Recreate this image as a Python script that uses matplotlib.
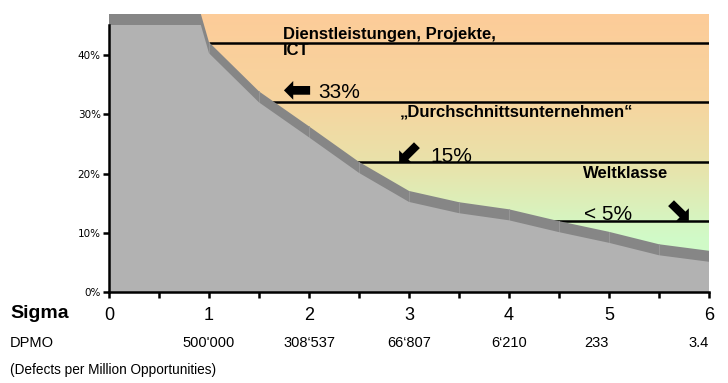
import numpy as np
import matplotlib
matplotlib.use("Agg")
import matplotlib.pyplot as plt
from matplotlib.patches import Polygon, Rectangle
from matplotlib.colors import LinearSegmentedColormap
import matplotlib.transforms as mtransforms

# data: cost of poor quality (% of revenue) by sigma level
sigma = [0, 0.5, 1, 1.5, 2, 2.5, 3, 3.5, 4, 4.5, 5, 5.5, 6]
cost = [84, 69.5, 40.3, 32.0, 26.1, 20.1, 15.2, 13.3, 12.1, 10.1, 8.3, 6.2, 5.1]
levels = [42, 32, 22, 12]
sigma_ticks = [0, 1, 2, 3, 4, 5, 6]
dpmo_pos = [1, 2, 3, 4, 5, 6]
dpmo_labels = ["500'000", "308\u2018537", "66\u2018807", "6\u2018210", "233", "3.4"]
ytick_vals = [0, 10, 20, 30, 40]

plt.rcParams['font.family'] = ["Liberation Sans", "DejaVu Sans"]

fig = plt.figure(figsize=(7.28, 3.83), dpi=100)
ax = fig.add_axes([109 / 728, 91 / 383, 600 / 728, 278 / 383])

px_per_pct = 5.925
ytop = 278 / px_per_pct
depth = 11 / px_per_pct
cap = 45

ax.set_xlim(0, 6)
ax.set_ylim(0, ytop)

# background gradient
cmap = LinearSegmentedColormap.from_list("bg", [
    (0.0, (0.80, 1.00, 0.80)),
    (0.20, (0.82, 0.98, 0.78)),
    (0.45, (0.91, 0.89, 0.67)),
    (0.70, (0.97, 0.83, 0.62)),
    (1.0, (0.99, 0.80, 0.60)),
])
grad = np.linspace(0, 1, 256).reshape(-1, 1)
ax.imshow(grad, extent=(0, 6, 0, ytop), origin="lower", aspect="auto",
          cmap=cmap, zorder=0)

# horizontal level lines
for lv in levels:
    ax.plot([0, 6], [lv, lv], color="black", lw=1.8, zorder=1)

# 3d-like area: back (dark band) and front face
verts = [(sigma[0], 0)] + list(zip(sigma, cost)) + [(sigma[-1], 0)]
back_verts = [(x, y + depth) for x, y in verts]
back = Polygon(back_verts, closed=True, facecolor="#868686", edgecolor="none", zorder=2)
ax.add_patch(back)
back.set_clip_path(Rectangle((0, 0), 6, cap + depth, transform=ax.transData))
front = Polygon(verts, closed=True, facecolor="#b2b2b2", edgecolor="none", zorder=3)
ax.add_patch(front)
front.set_clip_path(Rectangle((0, 0), 6, cap, transform=ax.transData))

# segment dividers in the band
for x, y in zip(sigma, cost):
    if y < cap and 0 < x < 6:
        ax.plot([x, x], [y, y + depth], color="#9a9a9a", lw=0.6, zorder=2.5)

# axes styling
for s in ["top", "right"]:
    ax.spines[s].set_visible(False)
ax.spines["left"].set_bounds(0, cap)
ax.spines["left"].set_linewidth(1.8)
ax.spines["bottom"].set_linewidth(1.8)
ax.spines["left"].set_zorder(5)
ax.spines["bottom"].set_zorder(5)

ax.set_yticks(ytick_vals)
ax.set_yticklabels([f"{v}%" for v in ytick_vals], family="DejaVu Sans", fontsize=7.5)
ax.set_xticks(sigma_ticks)
ax.set_xticklabels([str(v) for v in sigma_ticks], fontsize=13)
ax.set_xticks(np.arange(0.5, 6, 1), minor=True)
ax.tick_params(axis="y", length=4, width=1.8, pad=2)
ax.tick_params(axis="x", which="both", length=4, width=1.8, pad=7)

# annotations
ax.text(1.74, 44.7, "Dienstleistungen, Projekte,\nICT", fontsize=12, fontweight="bold",
        va="top", ha="left", linespacing=1.05, zorder=6)
ax.text(1.88, 34.1, "\u2B05", family="DejaVu Sans", fontsize=25, fontweight="bold",
        va="center", ha="center", zorder=6)
ax.text(2.09, 32.7, "33%", fontsize=15, va="baseline", ha="left", zorder=6)
ax.text(2.91, 30.4, "\u201EDurchschnittsunternehmen\u201C", fontsize=12, fontweight="bold",
        va="center", ha="left", zorder=6)
ax.text(3.01, 23.5, "\u2B0B", family="DejaVu Sans", fontsize=24, fontweight="bold",
        va="center", ha="center", zorder=6)
ax.text(3.21, 22.0, "15%", fontsize=15, va="baseline", ha="left", zorder=6)
ax.text(4.74, 20.0, "Weltklasse", fontsize=12, fontweight="bold",
        va="center", ha="left", zorder=6)
ax.text(4.75, 12.2, "< 5%", fontsize=15, va="baseline", ha="left", zorder=6)
ax.text(5.69, 13.7, "\u2B0A", family="DejaVu Sans", fontsize=24, fontweight="bold",
        va="center", ha="center", zorder=6)

# bottom labels
fig.text(10 / 728, 1 - 313 / 383, "Sigma", fontsize=14, fontweight="bold",
         va="center", ha="left")
fig.text(10 / 728, 1 - 343 / 383, "DPMO", fontsize=10.5, va="center", ha="left")
fig.text(10 / 728, 1 - 370 / 383, "(Defects per Million Opportunities)", fontsize=9.8,
         va="center", ha="left")
trans = mtransforms.blended_transform_factory(ax.transData, fig.transFigure)
for x, lab in zip(dpmo_pos, dpmo_labels):
    ha = "right" if x == 6 else "center"
    ax.text(x if x < 5 else x - (0.13 if x == 5 else 0), 1 - 343 / 383, lab,
            transform=trans, fontsize=10.5, va="center", ha=ha)

fig.savefig("out.png", dpi=100)
